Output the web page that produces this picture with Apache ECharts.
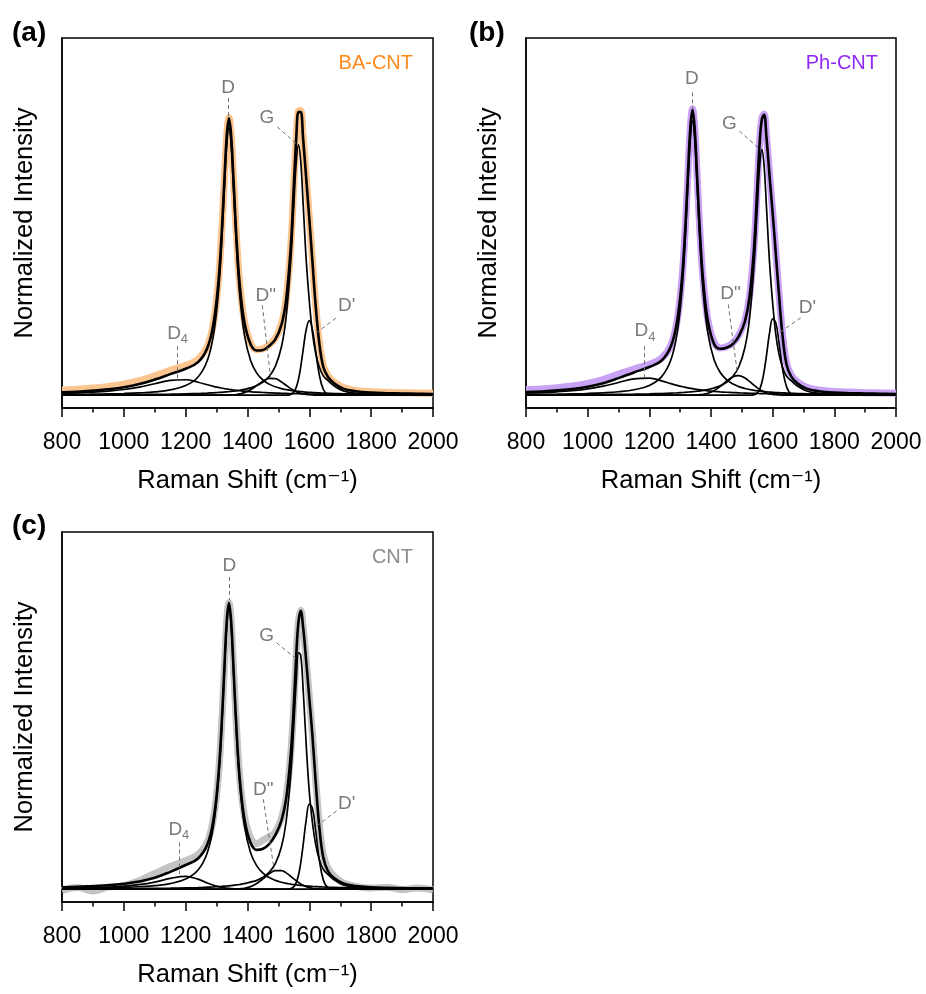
<!DOCTYPE html>
<html><head><meta charset="utf-8">
<script src="https://cdn.jsdelivr.net/npm/echarts@6/dist/echarts.min.js"></script>
<style>html,body{margin:0;padding:0;background:#fff}#c{width:926px;height:994px}</style>
</head><body><div id="c"></div>
<script>
const FONT = '"Liberation Sans", Arial, "DejaVu Sans", sans-serif';

// Raman shift sampling (cm^-1)
const ramanShift = [800, 850, 900, 950, 1000, 1050, 1100, 1150, 1200, 1240,
  1270, 1290, 1305, 1315, 1325, 1333, 1340, 1347, 1355, 1365,
  1375, 1390, 1410, 1430, 1450, 1470, 1490, 1510, 1525, 1540,
  1550, 1558, 1565, 1572, 1580, 1590, 1600, 1610, 1620, 1632,
  1645, 1660, 1680, 1710, 1750, 1800, 1850, 1900, 1950, 2000];
const xTicks = [800, 1000, 1200, 1400, 1600, 1800, 2000];

// ---------- (a) BA-CNT ----------
const rawA = [0.018, 0.021, 0.025, 0.031, 0.039, 0.051, 0.068, 0.087, 0.105, 0.126,
  0.172, 0.255, 0.390, 0.545, 0.755, 0.915, 0.975, 0.918, 0.757, 0.545,
  0.392, 0.260, 0.182, 0.160, 0.163, 0.177, 0.200, 0.250, 0.338, 0.525,
  0.740, 0.910, 0.998, 1.000, 0.905, 0.765, 0.625, 0.475, 0.325, 0.190,
  0.106, 0.070, 0.046, 0.027, 0.017, 0.012, 0.010, 0.009, 0.008, 0.007];
const fitA = [0.010, 0.012, 0.016, 0.021, 0.028, 0.039, 0.055, 0.074, 0.093, 0.116,
  0.166, 0.252, 0.387, 0.541, 0.752, 0.914, 0.973, 0.914, 0.752, 0.541,
  0.388, 0.256, 0.179, 0.157, 0.159, 0.173, 0.196, 0.248, 0.336, 0.523,
  0.740, 0.910, 0.995, 0.995, 0.900, 0.760, 0.620, 0.470, 0.322, 0.185,
  0.100, 0.065, 0.042, 0.023, 0.014, 0.009, 0.007, 0.006, 0.005, 0.004];
const bandD_A = [0.0023, 0.0028, 0.0035, 0.0045, 0.0059, 0.0081, 0.0117, 0.0186, 0.0337, 0.0639,
  0.1217, 0.2122, 0.3506, 0.506, 0.718, 0.8806, 0.940, 0.8806, 0.718, 0.506,
  0.3506, 0.2122, 0.1217, 0.0776, 0.0534, 0.0389, 0.0295, 0.0231, 0.0196, 0.0168,
  0.0153, 0.0142, 0.0134, 0.0126, 0.0117, 0.0108, 0.0100, 0.0093, 0.0087, 0.0080,
  0.0073, 0.0066, 0.0059, 0.0050, 0.0041, 0.0032, 0.0026, 0.0022, 0.0018, 0.0016];
const bandG_A = [0.0011, 0.0013, 0.0015, 0.0017, 0.0020, 0.0024, 0.0030, 0.0037, 0.0048, 0.0060,
  0.0073, 0.0084, 0.0094, 0.0101, 0.0110, 0.0118, 0.0125, 0.0133, 0.0143, 0.0157,
  0.0174, 0.0205, 0.0259, 0.0338, 0.0460, 0.0658, 0.1010, 0.1709, 0.2754, 0.4739,
  0.6723, 0.8246, 0.880, 0.8246, 0.6723, 0.4739, 0.330, 0.220, 0.150, 0.100,
  0.068, 0.052, 0.033, 0.015, 0.007, 0.004, 0.0025, 0.0018, 0.0014, 0.0011];
const bandDp_A = [0, 0, 0, 0, 0, 0, 0, 0, 0, 0,
  0, 0, 0, 0, 0, 0, 0, 0, 0, 0,
  0, 0, 0, 0, 0, 0, 0, 0, 0, 0.0029,
  0.0115, 0.0289, 0.0567, 0.0983, 0.159, 0.231, 0.262, 0.231, 0.159, 0.0729,
  0.0209, 0.0029, 0.0001, 0, 0, 0, 0, 0, 0, 0];
const bandDpp_A = [0, 0, 0, 0, 0, 0, 0, 0, 0, 0,
  0, 0, 0, 0, 0, 0, 0.0005, 0.0007, 0.0012, 0.0026,
  0.0044, 0.0089, 0.0192, 0.034, 0.0494, 0.059, 0.0579, 0.0466, 0.0348, 0.0232,
  0.0167, 0.0124, 0.0093, 0.0068, 0.0046, 0.0027, 0.0015, 0.0008, 0.0004, 0,
  0, 0, 0, 0, 0, 0, 0, 0, 0, 0];
const bandD4_A = [0.0064, 0.0082, 0.0107, 0.0144, 0.0200, 0.0285, 0.0402, 0.0518, 0.0542, 0.0455,
  0.0366, 0.0311, 0.0275, 0.0253, 0.0233, 0.0218, 0.0206, 0.0195, 0.0183, 0.0169,
  0.0157, 0.0140, 0.0122, 0.0106, 0.0094, 0.0083, 0.0074, 0.0066, 0.0061, 0.0056,
  0.0054, 0.0052, 0.0050, 0.0048, 0.0046, 0.0044, 0.0042, 0.0041, 0.0039, 0.0037,
  0.0035, 0.0033, 0.0031, 0.0027, 0.0024, 0.0020, 0.0017, 0.0015, 0.0013, 0.0012];

// ---------- (b) Ph-CNT ----------
const rawB = [0.020, 0.022, 0.026, 0.032, 0.041, 0.055, 0.074, 0.092, 0.109, 0.130,
  0.176, 0.262, 0.400, 0.556, 0.772, 0.940, 1.006, 0.942, 0.772, 0.556,
  0.400, 0.264, 0.186, 0.166, 0.170, 0.183, 0.210, 0.262, 0.348, 0.528,
  0.733, 0.893, 0.973, 0.988, 0.908, 0.775, 0.645, 0.505, 0.365, 0.215,
  0.113, 0.071, 0.047, 0.028, 0.018, 0.013, 0.011, 0.009, 0.008, 0.007];
const fitB = [0.011, 0.013, 0.017, 0.022, 0.030, 0.042, 0.060, 0.080, 0.099, 0.122,
  0.172, 0.260, 0.399, 0.556, 0.772, 0.940, 1.003, 0.939, 0.770, 0.554,
  0.397, 0.260, 0.180, 0.163, 0.167, 0.179, 0.207, 0.259, 0.345, 0.525,
  0.730, 0.890, 0.970, 0.985, 0.905, 0.770, 0.640, 0.500, 0.360, 0.210,
  0.108, 0.066, 0.042, 0.023, 0.014, 0.009, 0.007, 0.006, 0.005, 0.004];
const bandD_B = [0.0024, 0.0029, 0.0036, 0.0046, 0.0060, 0.0083, 0.0120, 0.0190, 0.0344, 0.0654,
  0.1246, 0.2172, 0.3589, 0.518, 0.735, 0.9014, 0.962, 0.9014, 0.735, 0.518,
  0.3589, 0.2172, 0.1246, 0.0795, 0.0547, 0.0398, 0.0302, 0.0237, 0.0200, 0.0172,
  0.0156, 0.0145, 0.0137, 0.0129, 0.0120, 0.0111, 0.0103, 0.0095, 0.0089, 0.0082,
  0.0075, 0.0068, 0.0060, 0.0051, 0.0041, 0.0033, 0.0027, 0.0022, 0.0019, 0.0016];
const bandG_B = [0.0011, 0.0012, 0.0014, 0.0017, 0.0020, 0.0024, 0.0029, 0.0036, 0.0047, 0.0059,
  0.0072, 0.0082, 0.0092, 0.0099, 0.0108, 0.0116, 0.0123, 0.0130, 0.0140, 0.0154,
  0.0171, 0.0201, 0.0254, 0.0332, 0.0451, 0.0645, 0.0991, 0.1677, 0.2702, 0.4649,
  0.6595, 0.8089, 0.863, 0.8089, 0.6595, 0.4649, 0.3237, 0.2156, 0.147, 0.098,
  0.0666, 0.051, 0.0323, 0.0147, 0.0069, 0.0039, 0.0025, 0.0018, 0.0014, 0.0011];
const bandDp_B = [0, 0, 0, 0, 0, 0, 0, 0, 0, 0,
  0, 0, 0, 0, 0, 0, 0, 0, 0, 0,
  0, 0, 0, 0, 0, 0, 0, 0, 0, 0.0019,
  0.0081, 0.0216, 0.0446, 0.0816, 0.140, 0.2195, 0.268, 0.2549, 0.1889, 0.0947,
  0.0299, 0.0047, 0.0002, 0, 0, 0, 0, 0, 0, 0];
const bandDpp_B = [0, 0, 0, 0, 0, 0, 0, 0, 0, 0,
  0, 0, 0, 0, 0, 0, 0.0003, 0.0005, 0.0009, 0.0017,
  0.0031, 0.0068, 0.016, 0.0309, 0.0492, 0.0642, 0.0689, 0.0606, 0.0483, 0.0345,
  0.0259, 0.0199, 0.0154, 0.0116, 0.0081, 0.005, 0.0029, 0.0016, 0.0009, 0.0004,
  0.0001, 0, 0, 0, 0, 0, 0, 0, 0, 0];
const bandD4_B = [0.0071, 0.0091, 0.0119, 0.0160, 0.0222, 0.0316, 0.0446, 0.0574, 0.0601, 0.0505,
  0.0406, 0.0345, 0.0305, 0.0281, 0.0258, 0.0242, 0.0228, 0.0216, 0.0203, 0.0187,
  0.0174, 0.0155, 0.0135, 0.0118, 0.0104, 0.0092, 0.0082, 0.0073, 0.0068, 0.0062,
  0.0060, 0.0058, 0.0055, 0.0053, 0.0051, 0.0049, 0.0047, 0.0045, 0.0043, 0.0041,
  0.0039, 0.0037, 0.0034, 0.0030, 0.0027, 0.0022, 0.0019, 0.0017, 0.0014, 0.0013];

// ---------- (c) CNT ----------
const rawC = [-0.004, 0.006, -0.006, 0.008, 0.012, 0.030, 0.055, 0.080, 0.100, 0.122,
  0.165, 0.250, 0.390, 0.550, 0.772, 0.943, 1.006, 0.944, 0.775, 0.556,
  0.395, 0.258, 0.180, 0.160, 0.172, 0.185, 0.200, 0.250, 0.322, 0.478,
  0.652, 0.832, 0.942, 0.980, 0.922, 0.803, 0.673, 0.545, 0.392, 0.232,
  0.122, 0.074, 0.046, 0.022, 0.010, 0.004, 0.007, -0.002, 0.004, -0.003];
const fitC = [0.007, 0.008, 0.011, 0.014, 0.019, 0.027, 0.040, 0.061, 0.085, 0.108,
  0.157, 0.245, 0.388, 0.549, 0.772, 0.943, 1.005, 0.943, 0.772, 0.550,
  0.388, 0.247, 0.163, 0.138, 0.142, 0.158, 0.190, 0.242, 0.318, 0.475,
  0.650, 0.830, 0.940, 0.978, 0.920, 0.800, 0.670, 0.540, 0.385, 0.222,
  0.112, 0.064, 0.039, 0.020, 0.011, 0.007, 0.005, 0.004, 0.003, 0.003];
const bandD_C = [0.0025, 0.0030, 0.0037, 0.0047, 0.0062, 0.0085, 0.0123, 0.0196, 0.0355, 0.0673,
  0.1282, 0.2235, 0.3693, 0.533, 0.7564, 0.9277, 0.990, 0.9277, 0.7564, 0.533,
  0.3693, 0.2235, 0.1282, 0.0818, 0.0563, 0.0409, 0.0311, 0.0244, 0.0206, 0.0177,
  0.0161, 0.0149, 0.0141, 0.0133, 0.0123, 0.0114, 0.0106, 0.0098, 0.0091, 0.0084,
  0.0077, 0.0070, 0.0062, 0.0052, 0.0043, 0.0034, 0.0028, 0.0023, 0.0019, 0.0017];
const bandG_C = [0.0011, 0.0012, 0.0014, 0.0016, 0.0019, 0.0023, 0.0028, 0.0035, 0.0046, 0.0057,
  0.0070, 0.0080, 0.0090, 0.0097, 0.0105, 0.0113, 0.0119, 0.0127, 0.0137, 0.0150,
  0.0166, 0.0196, 0.0248, 0.0310, 0.0418, 0.0593, 0.0900, 0.1498, 0.2378, 0.4053,
  0.5824, 0.7396, 0.8307, 0.823, 0.7023, 0.5054, 0.340, 0.235, 0.160, 0.105,
  0.070, 0.052, 0.033, 0.015, 0.0068, 0.0038, 0.0024, 0.0017, 0.0013, 0.0011];
const bandDp_C = [0, 0, 0, 0, 0, 0, 0, 0, 0, 0,
  0, 0, 0, 0, 0, 0, 0, 0, 0, 0,
  0, 0, 0, 0, 0, 0, 0, 0, 0, 0.0021,
  0.009, 0.0241, 0.0497, 0.0909, 0.156, 0.2446, 0.2987, 0.2841, 0.2105, 0.1055,
  0.0333, 0.0052, 0.0002, 0, 0, 0, 0, 0, 0, 0];
const bandDpp_C = [0, 0, 0, 0, 0, 0, 0, 0, 0, 0,
  0, 0, 0, 0, 0, 0, 0.0001, 0.0003, 0.0005, 0.0007,
  0.0014, 0.0034, 0.0091, 0.020, 0.0361, 0.0537, 0.0654, 0.0654, 0.0574, 0.0451,
  0.0361, 0.0292, 0.0236, 0.0186, 0.0138, 0.0091, 0.0057, 0.0034, 0.0019, 0.0009,
  0.0004, 0.0001, 0, 0, 0, 0, 0, 0, 0, 0];
const bandD4_C = [0.0032, 0.0041, 0.0054, 0.0074, 0.0106, 0.016, 0.0251, 0.0378, 0.045, 0.0352,
  0.0219, 0.0139, 0.0092, 0.0067, 0.0048, 0.0036, 0.0027, 0.0021, 0.0015, 0.0009,
  0.0006, 0.0003, 0.0001, 0, 0, 0, 0, 0, 0, 0,
  0, 0, 0, 0, 0, 0, 0, 0, 0, 0,
  0, 0, 0, 0, 0, 0, 0, 0, 0, 0];

// Peak annotations: [label, shift, intensity]
const peakLabelsA = [['D', 1337, 1.079], ['G', 1463, 0.973], ['D"', 1459, 0.351], ["D'", 1721, 0.313], ['D4', 1174, 0.211]];
const peakLabelsB = [['D', 1338, 1.112], ['G', 1460, 0.955], ['D"', 1463, 0.357], ["D'", 1713, 0.308], ['D4', 1186, 0.220]];
const peakLabelsC = [['D', 1341, 1.136], ['G', 1462, 0.890], ['D"', 1451, 0.348], ["D'", 1721, 0.301], ['D4', 1178, 0.205]];
// Leader lines: [x1, y1, x2, y2]
const leadersA = [[1337, 1.044, 1337, 0.975], [1496, 0.943, 1564, 0.878], [1448, 0.316, 1475, 0.059], [1686, 0.271, 1622, 0.218], [1172, 0.172, 1172, 0.053]];
const leadersB = [[1338, 1.064, 1338, 1.010], [1492, 0.928, 1562, 0.861], [1456, 0.319, 1486, 0.073], [1691, 0.272, 1621, 0.219], [1184, 0.172, 1184, 0.061]];
const leadersC = [[1341, 1.097, 1341, 1.015], [1494, 0.866, 1562, 0.805], [1451, 0.316, 1486, 0.070], [1688, 0.275, 1624, 0.222], [1178, 0.164, 1178, 0.053]];

const panels = [
  { raw: rawA, fit: fitA, bands: [bandD_A, bandG_A, bandDp_A, bandDpp_A, bandD4_A], labels: peakLabelsA, leaders: leadersA,
    rawColor: '#FBC590', name: 'BA-CNT', nameColor: '#FF8A1C', tag: '(a)' },
  { raw: rawB, fit: fitB, bands: [bandD_B, bandG_B, bandDp_B, bandDpp_B, bandD4_B], labels: peakLabelsB, leaders: leadersB,
    rawColor: '#C9A2F6', name: 'Ph-CNT', nameColor: '#9028F5', tag: '(b)' },
  { raw: rawC, fit: fitC, bands: [bandD_C, bandG_C, bandDp_C, bandDpp_C, bandD4_C], labels: peakLabelsC, leaders: leadersC,
    rawColor: '#C4C4C4', name: 'CNT', nameColor: '#8C8C8C', tag: '(c)' }
];
const grids = [
  { left: 62, top: 38, width: 371, height: 370 },
  { left: 526, top: 38, width: 370, height: 370 },
  { left: 62, top: 532, width: 371, height: 370 }
];

const pts = vals => ramanShift.map((x, i) => [x, vals[i]]);
const LABEL_COLOR = '#595959';

const series = [];
panels.forEach((p, i) => {
  series.push({ type: 'line', xAxisIndex: i, yAxisIndex: i, data: pts(p.raw), showSymbol: false, smooth: 0.4,
    lineStyle: { color: p.rawColor, width: 7 }, z: 2, silent: true });
  p.bands.forEach(b => series.push({ type: 'line', xAxisIndex: i, yAxisIndex: i, data: pts(b), showSymbol: false, smooth: 0.4,
    lineStyle: { color: '#000', width: 1.7 }, z: 3, silent: true }));
  series.push({ type: 'line', xAxisIndex: i, yAxisIndex: i, data: pts(p.fit), showSymbol: false, smooth: 0.4,
    lineStyle: { color: '#000', width: 2.6 }, z: 4, silent: true,
    markLine: { silent: true, symbol: ['none', 'none'], label: { show: false },
      lineStyle: { type: [4, 3], color: '#707070', width: 1 },
      data: p.leaders.map(l => [{ coord: [l[0], l[1]] }, { coord: [l[2], l[3]] }]) } });
  series.push({ type: 'scatter', xAxisIndex: i, yAxisIndex: i, symbolSize: 1, itemStyle: { color: 'rgba(0,0,0,0)' }, z: 6, silent: true,
    data: p.labels.map(l => [l[1], l[2], l[0]]),
    label: { show: true, position: 'inside', color: LABEL_COLOR, fontSize: 19, fontFamily: FONT,
      formatter: q => q.data[2] === 'D4' ? '{m|D}{s|4}' : q.data[2],
      rich: { m: { fontSize: 19, color: LABEL_COLOR, fontFamily: FONT, padding: [0, 0, 3, 0] },
              s: { fontSize: 13, color: LABEL_COLOR, fontFamily: FONT, verticalAlign: 'bottom' } } } });
});

const axisLineStyle = { color: '#000', width: 1.5 };
const option = {
  animation: false,
  textStyle: { fontFamily: FONT },
  grid: grids.map(g => Object.assign({ show: true, borderColor: '#000', borderWidth: 1.5, backgroundColor: 'transparent' }, g)),
  xAxis: grids.map((g, i) => ({
    type: 'value', gridIndex: i, min: xTicks[0], max: xTicks[xTicks.length - 1], interval: 200,
    name: 'Raman Shift (cm\u207B\u00B9)', nameLocation: 'middle', nameGap: 60,
    nameTextStyle: { fontSize: 25.5, color: '#000', fontFamily: FONT },
    axisLine: { show: true, onZero: false, lineStyle: axisLineStyle },
    axisTick: { show: true, inside: false, length: 9, lineStyle: axisLineStyle },
    minorTick: { show: true, splitNumber: 2, length: 4.5, lineStyle: axisLineStyle },
    axisLabel: { fontSize: 23, color: '#000', margin: 23, showMinLabel: true, showMaxLabel: true, fontFamily: FONT,
      formatter: v => String(v) },
    splitLine: { show: false }, minorSplitLine: { show: false }
  })),
  yAxis: grids.map((g, i) => ({
    type: 'value', gridIndex: i, min: -0.045, max: 1.255,
    name: 'Normalized Intensity', nameLocation: 'middle', nameGap: 24,
    nameTextStyle: { fontSize: 25.5, color: '#000', fontFamily: FONT },
    axisLine: { show: true, onZero: false, lineStyle: axisLineStyle },
    axisTick: { show: false }, axisLabel: { show: false }, splitLine: { show: false }
  })),
  graphic: [
    { type: 'text', x: 12, y: 33, style: { text: panels[0].tag, fontSize: 28, fontWeight: 'bold', fontFamily: FONT, fill: '#000', verticalAlign: 'middle' } },
    { type: 'text', x: 469, y: 33, style: { text: panels[1].tag, fontSize: 28, fontWeight: 'bold', fontFamily: FONT, fill: '#000', verticalAlign: 'middle' } },
    { type: 'text', x: 12, y: 526, style: { text: panels[2].tag, fontSize: 28, fontWeight: 'bold', fontFamily: FONT, fill: '#000', verticalAlign: 'middle' } },
    { type: 'text', x: 413, y: 63, style: { text: panels[0].name, fontSize: 20, fontFamily: FONT, fill: panels[0].nameColor, align: 'right', verticalAlign: 'middle' } },
    { type: 'text', x: 878, y: 63, style: { text: panels[1].name, fontSize: 20, fontFamily: FONT, fill: panels[1].nameColor, align: 'right', verticalAlign: 'middle' } },
    { type: 'text', x: 413, y: 557, style: { text: panels[2].name, fontSize: 20, fontFamily: FONT, fill: panels[2].nameColor, align: 'right', verticalAlign: 'middle' } }
  ],
  series: series
};
const chart = echarts.init(document.getElementById('c'), null, { renderer: 'canvas' });
chart.setOption(option);
</script></body></html>
